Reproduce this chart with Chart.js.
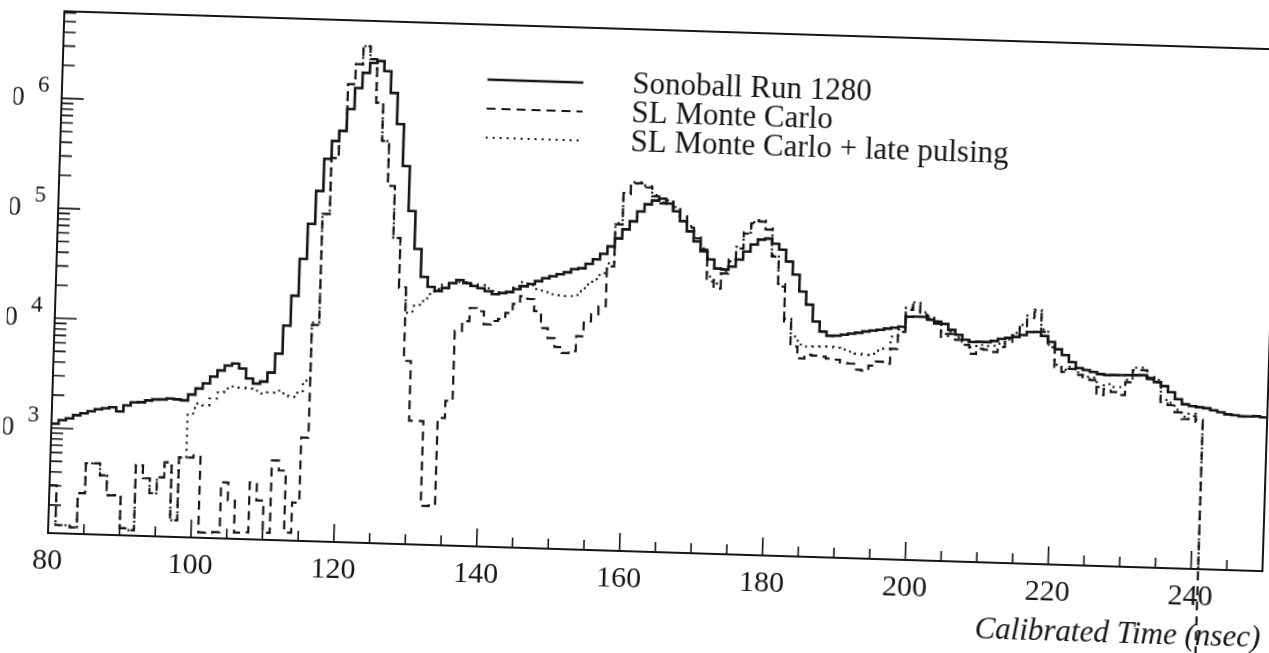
<!DOCTYPE html>
<html lang="en">
  <head>
    <meta charset="UTF-8" />
    <title>Calibrated Time</title>
    <script src="https://cdn.jsdelivr.net/npm/chart.js"></script>
    <style>
      html, body { margin: 0; padding: 0; background: #fff; overflow: hidden; }
      #wrap { width: 1269px; height: 653px; }
      /* the scanned figure sits a little crooked on the page */
      #timeChart { transform: rotate(1.8deg); transform-origin: 48px 533px; }
    </style>
  </head>
  <body>
    <div id="wrap"><canvas id="timeChart" width="1269" height="653"></canvas></div>

    <script>
      // bins are 1 nsec wide, first one starts at 80 nsec
      const firstBin = 80;
      const binWidth = 1;
      const xMin = 80;
      const xMax = 250;
      const xLabelTicks = [80, 100, 120, 140, 160, 180, 200, 220, 240];
      const yMin = 111;
      const yMax = 6.2e6;
      const yExponents = [3, 4, 5, 6];
      const seriesNames = ["Sonoball Run 1280", "SL Monte Carlo", "SL Monte Carlo + late pulsing"];

      // counts per bin
      const sonoball = [
        1100, 1190, 1240, 1330, 1390, 1460, 1530, 1570, 1610, 1480,
        1690, 1810, 1820, 1900, 1950, 1960, 2010, 1980, 1950, 2210,
        2520, 2820, 3270, 3730, 4150, 4350, 3940, 3210, 2900, 3040,
        3690, 5510, 9950, 18700, 40700, 85100, 170600, 335500, 491000, 608000,
        968000, 1510000, 2080000, 2570000, 2690000, 2190000, 1390000, 729000, 304000, 119000,
        54000, 30200, 24600, 22700, 24300, 27100, 29000, 27300, 25800, 24800,
        23400, 22100, 22700, 23300, 24900, 26600, 27900, 29800, 31800, 33400,
        35000, 36600, 39200, 40200, 44300, 48900, 55100, 64700, 77000, 93400,
        111000, 137000, 160000, 174000, 182000, 165000, 141000, 115000, 93300, 76000,
        61900, 52600, 43700, 43000, 46000, 53500, 63600, 73900, 82400, 84600,
        76400, 67700, 53000, 40500, 28500, 21800, 15400, 12500, 11500, 11600,
        11900, 12200, 12500, 12900, 13200, 13500, 13900, 14200, 14600, 18100,
        18200, 18200, 17200, 16600, 15900, 14100, 12800, 11600, 11100, 11200,
        11200, 11500, 12100, 12400, 12700, 13300, 14200, 14300, 13200, 11700,
        10100, 8980, 7780, 6910, 6660, 6410, 6170, 6070, 6100, 6120,
        6150, 6170, 6200, 5860, 5410, 5000, 4430, 3840, 3470, 3350,
        3290, 3240, 3120, 3000, 2890, 2850, 2800, 2810, 2830, 2780
      ];

      const slMonteCarlo = [
        303, 132, 132, 127, 261, 491, 493, 385, 255, 256,
        129, 124, 485, 372, 273, 383, 526, 157, 589, 592,
        620, 124, 125, 126, 359, 247, 127, 128, 365, 252,
        129, 587, 478, 131, 247, 966, 10300, 106000, 344000, 608000,
        1630000, 2490000, 3650000, 2790000, 1120000, 507000, 199000, 67100, 23600, 5150,
        1480, 1480, 251, 253, 1600, 2290, 9970, 12300, 16300, 15300,
        11700, 12600, 13200, 15000, 18200, 21600, 20400, 15900, 11200, 9120,
        7600, 6730, 7050, 9680, 13300, 15500, 18400, 42600, 103000, 195000,
        246000, 247000, 228000, 190000, 164000, 172000, 150000, 124000, 101000, 80900,
        64500, 33200, 28800, 39500, 51100, 67400, 92600, 115000, 120000, 102000,
        58300, 31200, 15100, 8980, 7020, 7660, 7530, 7410, 7130, 7010,
        6630, 6520, 5770, 5670, 6330, 6910, 6660, 9140, 13100, 20900,
        23300, 19000, 17600, 15900, 12100, 13000, 11500, 10400, 8670, 9660,
        9510, 9150, 10200, 11400, 13200, 15700, 19100, 21700, 14400, 10500,
        6960, 6290, 6730, 5980, 5510, 5420, 3980, 4530, 4270, 4030,
        5310, 6870, 6900, 5740, 5410, 3570, 3370, 2920, 2540, 2720,
        2410, 1, 1, 1, 1, 1, 1, 1, 1, 1
      ];

      const slLatePulsing = [
        303, 132, 132, 127, 261, 491, 493, 385, 255, 256,
        129, 124, 485, 372, 273, 383, 526, 157, 589, 1490,
        1840, 1780, 2060, 2350, 2570, 2690, 2640, 2600, 2500, 2370,
        2430, 2540, 2400, 2260, 2470, 3190, 10800, 106000, 344000, 608000,
        1630000, 2490000, 3650000, 2790000, 1120000, 507000, 199000, 67100, 24000, 14100,
        16400, 18200, 21200, 23700, 25900, 27100, 27800, 27900, 26900, 26400,
        24900, 23600, 22700, 23300, 26500, 28900, 27300, 25200, 23800, 22900,
        22500, 22200, 22300, 24800, 28800, 32200, 36700, 45400, 106000, 200000,
        252000, 253000, 234000, 195000, 168000, 176000, 154000, 128000, 104000, 83000,
        66000, 36800, 31900, 41200, 53000, 69500, 95000, 118000, 123000, 105000,
        60000, 33000, 16000, 11100, 9400, 9060, 9100, 9130, 9170, 9020,
        8700, 8380, 8070, 7940, 8140, 8700, 9120, 11800, 13700, 21900,
        24400, 20000, 18500, 16700, 12900, 13600, 12100, 11100, 10000, 10500,
        10300, 10400, 10900, 12000, 13800, 16400, 20000, 22700, 15100, 11000,
        7300, 6600, 7050, 6300, 5800, 5700, 4700, 5030, 4740, 4760,
        5580, 7210, 7250, 6030, 5680, 3750, 3540, 3070, 2670, 2860,
        2530, 1, 1, 1, 1, 1, 1, 1, 1, 1
      ];

      const ink = "#151515";
      const serif = "'Liberation Serif', 'Times New Roman', serif";
      Chart.defaults.font.family = serif;
      Chart.defaults.color = ink;

      // histogram: one point per bin low edge, plus the closing edge
      function toSteps(values) {
        const pts = values.map((v, i) => ({ x: firstBin + i * binWidth, y: v }));
        pts.push({ x: firstBin + values.length * binWidth, y: values[values.length - 1] });
        return pts;
      }

      const paperFrame = {
        id: "paperFrame",
        afterDraw(chart) {
          const { ctx, chartArea: a, scales } = chart;
          const x = scales.x;
          const y = scales.y;
          ctx.save();
          ctx.strokeStyle = ink;
          ctx.lineWidth = 2;
          ctx.strokeRect(a.left, a.top, a.right - a.left, a.bottom - a.top);

          // ticks point into the frame
          ctx.lineWidth = 1.6;
          ctx.beginPath();
          for (let v = xMin + 5; v < xMax; v += 5) {
            const px = x.getPixelForValue(v);
            const len = v % 20 === 0 ? 18 : 10;
            ctx.moveTo(px, a.bottom);
            ctx.lineTo(px, a.bottom - len);
          }
          for (let e = 2; e <= 6; e++) {
            for (let m = 1; m <= 9; m++) {
              const v = m * Math.pow(10, e);
              if (v < yMin || v > yMax) continue;
              const py = y.getPixelForValue(v);
              ctx.moveTo(a.left, py);
              ctx.lineTo(a.left + (m === 1 ? 22 : 12), py);
            }
          }
          ctx.stroke();

          // 10^n labels, the left part is cut off by the page edge
          ctx.fillStyle = ink;
          ctx.textBaseline = "middle";
          yExponents.forEach((e) => {
            const py = y.getPixelForValue(Math.pow(10, e));
            ctx.font = "27px " + serif;
            ctx.textAlign = "right";
            ctx.fillText("10", a.left - 37, py + 1);
            ctx.font = "23px " + serif;
            ctx.textAlign = "left";
            ctx.fillText(String(e), a.left - 24, py - 12);
          });

          // legend
          const styles = [[], [9, 6], [2, 5]];
          const widths = [2.6, 2.2, 2.2];
          ctx.font = "31px " + serif;
          ctx.textAlign = "left";
          seriesNames.forEach((name, i) => {
            const ly = 66 + i * 29;
            ctx.beginPath();
            ctx.setLineDash(styles[i]);
            ctx.lineWidth = widths[i];
            ctx.moveTo(473, ly);
            ctx.lineTo(569, ly);
            ctx.stroke();
            ctx.fillText(name, 618, ly + 1);
          });
          ctx.restore();
        }
      };

      const data = {
        datasets: [
          {
            label: seriesNames[0],
            data: toSteps(sonoball),
            borderColor: ink,
            borderWidth: 2.6,
            stepped: "before",
            pointRadius: 0
          },
          {
            label: seriesNames[1],
            data: toSteps(slMonteCarlo),
            borderColor: ink,
            borderWidth: 2.2,
            borderDash: [9, 6],
            stepped: "before",
            pointRadius: 0,
            clip: false
          },
          {
            label: seriesNames[2],
            data: toSteps(slLatePulsing),
            borderColor: ink,
            borderWidth: 2.2,
            borderDash: [2, 5],
            stepped: "before",
            pointRadius: 0
          }
        ]
      };

      const config = {
        type: "line",
        data: data,
        plugins: [paperFrame],
        options: {
          responsive: false,
          animation: false,
          devicePixelRatio: 1,
          layout: { padding: { top: 11, right: 6, left: 0, bottom: 0 } },
          plugins: { legend: { display: false }, tooltip: { enabled: false } },
          scales: {
            x: {
              type: "linear",
              min: xMin,
              max: xMax,
              grid: { display: false },
              border: { display: false },
              ticks: {
                autoSkip: false,
                maxRotation: 0,
                padding: 2,
                font: { size: 30 }
              },
              afterBuildTicks: (s) => {
                s.ticks = xLabelTicks.map((v) => ({ value: v }));
              },
              title: {
                display: true,
                text: "Calibrated Time (nsec)",
                align: "end",
                font: { size: 31, style: "italic" },
                padding: { top: 0, bottom: 34 }
              },
              afterFit: (s) => { s.height = 120; }
            },
            y: {
              type: "logarithmic",
              min: yMin,
              max: yMax,
              grid: { display: false },
              border: { display: false },
              ticks: { display: false },
              afterFit: (s) => { s.width = 48; }
            }
          }
        }
      };

      const timeChart = new Chart(document.getElementById("timeChart"), config);
    </script>
  </body>
</html>
